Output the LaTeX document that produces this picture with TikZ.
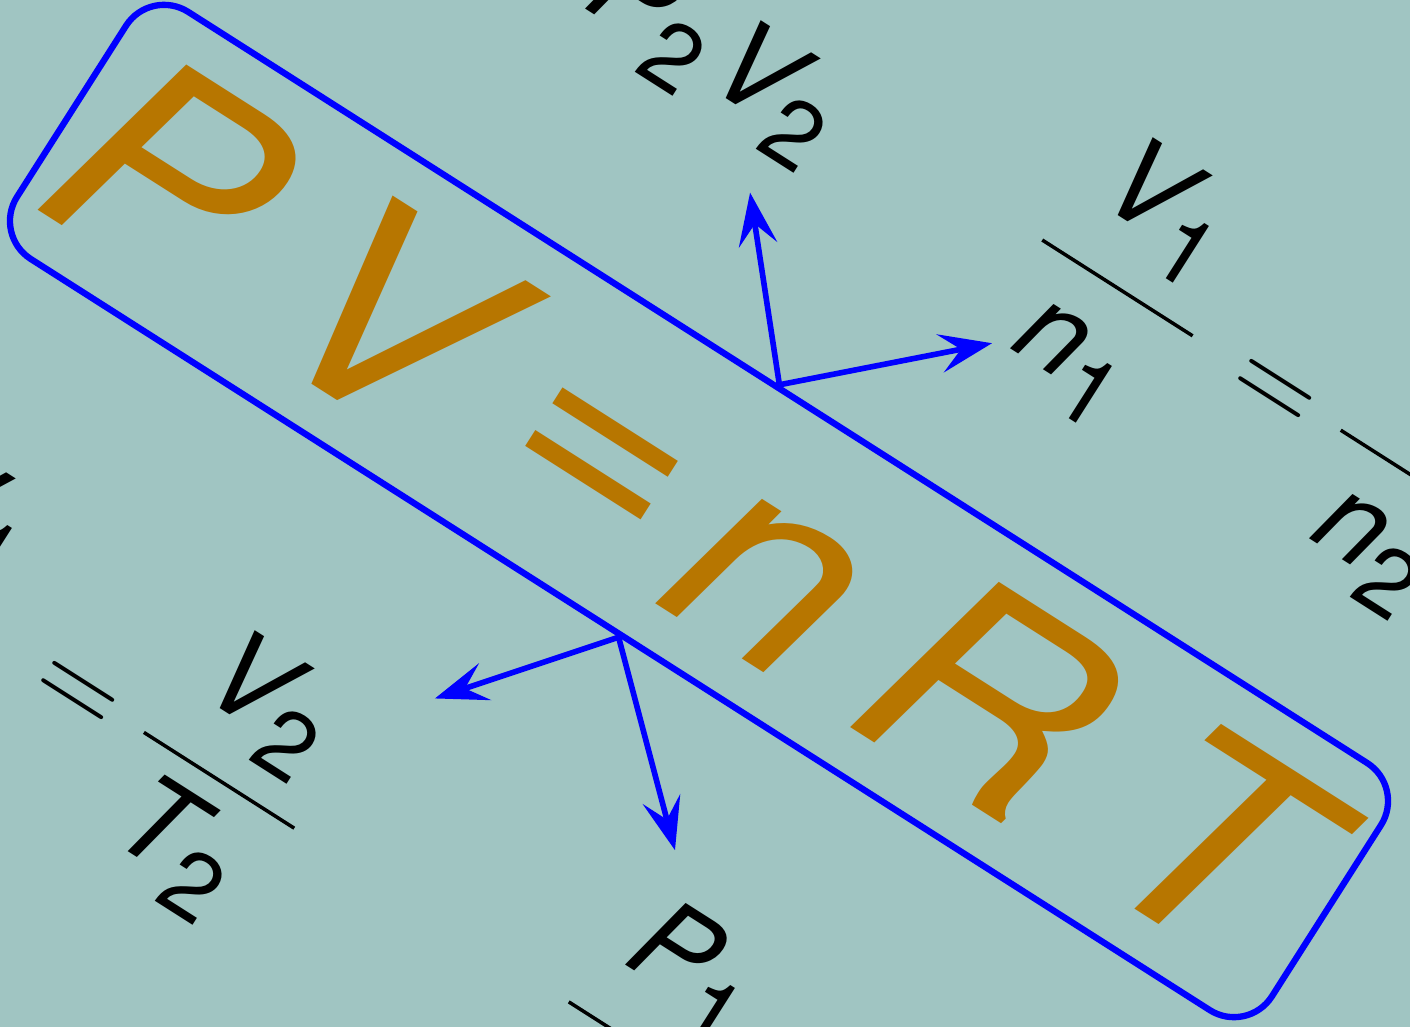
\documentclass[tikz,border=0pt]{standalone}
\usepackage{fix-cm}
\usepackage{amsmath}
\usepackage{graphicx}
\usepackage{xcolor}
\usepackage{fontspec}
\setsansfont{TeX Gyre Heros}
\usetikzlibrary{arrows.meta}

\definecolor{slate}{RGB}{160,197,194}
\definecolor{ochre}{RGB}{183,118,0}
\DeclareMathSizes{33}{33}{27}{20}
\newcommand{\vr}[1]{\textsf{\itshape #1}}
\newcommand{\ix}[1]{_{\text{\raisebox{-.1em}{\sffamily #1}}}}
\newcommand{\fr}[2]{\dfrac{\raisebox{.1em}{\hspace{.2em}$#1$\hspace{.2em}}}{#2}}

\begin{document}
\begin{tikzpicture}[>={Stealth[length=15pt,width=11pt,inset=6pt]},
    law/.style={draw=blue,line width=1.8pt,rounded corners=0.45cm,minimum width=14.88cm,minimum height=2.93cm,inner sep=0pt,text=ochre},
    eqn/.style={inner sep=0pt,font=\fontsize{33}{40}\selectfont},
    link/.style={->,blue,line width=1.6pt}]
  % canvas
  \fill[slate,use as bounding box] (0,0) rectangle (14.10,-10.27);
  \clip (0,0) rectangle (14.10,-10.27);
  \begin{scope}[shift={(6.99,-5.11)},rotate=-32.5,transform shape]
    % gas law
    \node[law] (law) at (0,0) {\fontsize{79}{79}\selectfont\sffamily\itshape\scalebox{1.1}[1]{P\kern.195em V\kern.208em \raisebox{.1em}{=}\kern.098em n\kern.179em R\kern.215em T\kern.09em}};
    % the four cases
    \node[eqn,anchor=base east] (boyle) at (-0.94,3.63) {$\vr{P}\ix{2}\kern.1em\vr{V}\ix{2}$};
    \node[eqn,anchor=base west] (avog) at (1.39,3.84) {$\fr{\vr{V}\ix{1}}{\vr{n}\ix{1}} \,= \fr{\vr{V}\ix{2}}{\vr{n}\ix{2}}$};
    \node[eqn,anchor=base east] (charles) at (-1.66,-5.14) {$\fr{\vr{V}\ix{1}}{\vr{T}\ix{1}} \,= \fr{\vr{V}\ix{2}}{\vr{T}\ix{2}}$};
    \node[eqn,anchor=base west] (gay) at (1.49,-5.13) {$\fr{\vr{P}\ix{1}}{\vr{T}\ix{1}} \,= \fr{\vr{P}\ix{2}}{\vr{T}\ix{2}}$};
    % arrows
    \coordinate (tipA) at (-1.28,2.96);
    \coordinate (tipB) at (1.57,2.99);
    \coordinate (tipC) at (-1.22,-3.00);
    \coordinate (tipD) at (1.62,-2.99);
    \draw[link] (law.north) -- (tipA);
    \draw[link] (law.north) -- (tipB);
    \draw[link] (law.south) -- (tipC);
    \draw[link] (law.south) -- (tipD);
  \end{scope}
\end{tikzpicture}
\end{document}
